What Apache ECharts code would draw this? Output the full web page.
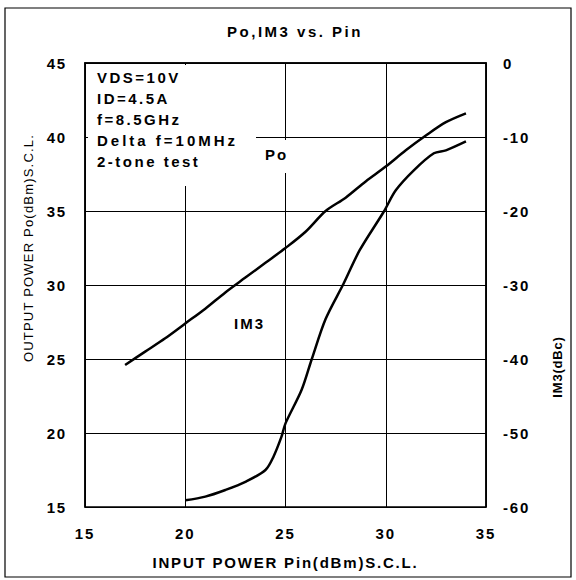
<!DOCTYPE html>
<html><head><meta charset="utf-8">
<script src="https://cdn.jsdelivr.net/npm/echarts@6/dist/echarts.min.js"></script>
<style>html,body{margin:0;padding:0;background:#fff}#c{width:576px;height:580px}</style>
</head><body><div id="c"></div>
<script>
const poPin = [17,18,19,20,21,22,23,24,25,26,27,28,29,30,31,32,33,34];
const poVals = [24.6,25.5,26.4,27.4,28.4,29.5,30.5,31.5,32.5,33.6,35.0,35.9,37.0,38.0,39.1,40.1,41.0,41.6];
const im3Pin = [20,21,22,23,24,24.4,24.8,25,25.8,26.3,27,27.9,28.7,29.9,30.5,31.4,32.4,33,34];
const im3Vals = [-59.1,-58.6,-57.7,-56.6,-55.0,-53.2,-50.5,-48.7,-44.2,-40.1,-34.6,-29.8,-25.3,-20.1,-17.2,-14.5,-12.2,-11.8,-10.6];
const xTicks = [15,20,25,30,35];
const leftTicks = [15,20,25,30,35,40,45];
const rightTicks = [-60,-50,-40,-30,-20,-10,0];
const infoLines = ['VDS=10V','ID=4.5A','f=8.5GHz','Delta f=10MHz','2-tone test'];
const titleText = 'Po,IM3 vs. Pin';
const xName = 'INPUT POWER Pin(dBm)S.C.L.';
const yLeftName = 'OUTPUT POWER Po(dBm)S.C.L.';
const yRightName = 'IM3(dBc)';

const FF = '"Liberation Sans", Arial, sans-serif';
const chart = echarts.init(document.getElementById('c'), null, {renderer:'svg'});
const lbl = {color:'#000', fontFamily:FF, fontWeight:'bold', fontSize:15};
const infoTexts = infoLines.map((t,i)=>({
  type:'text', x:97, y:77 + i*21, z:20,
  style:{text:t, fill:'#000', font:'bold 15px '+FF, textVerticalAlign:'middle'}
}));
chart.setOption({
  animation:false,
  backgroundColor:'#fff',
  title:{text:titleText, left:290, top:19, textAlign:'center',
    textStyle:{fontFamily:FF, fontWeight:'bold', fontSize:15, color:'#000'}},
  grid:{left:85, right:90, top:63, bottom:73, show:true, borderColor:'#000', borderWidth:1.5, backgroundColor:'transparent'},
  xAxis:{type:'value', min:xTicks[0], max:xTicks[xTicks.length-1], interval:5,
    axisLine:{lineStyle:{color:'#000', width:1.5}}, axisTick:{show:false},
    splitLine:{show:true, lineStyle:{color:'#000', width:1}},
    axisLabel:Object.assign({margin:19}, lbl),
    name:xName, nameLocation:'middle', nameGap:48,
    nameTextStyle:{color:'#000', fontFamily:FF, fontWeight:'bold', fontSize:15}},
  yAxis:[
    {type:'value', min:leftTicks[0], max:leftTicks[leftTicks.length-1], interval:5,
     axisLine:{show:true, lineStyle:{color:'#000', width:1.5}}, axisTick:{show:false},
     splitLine:{show:true, lineStyle:{color:'#000', width:1}},
     axisLabel:Object.assign({margin:18}, lbl)},
    {type:'value', position:'right', min:rightTicks[0], max:rightTicks[rightTicks.length-1], interval:10,
     axisLine:{show:true, lineStyle:{color:'#000', width:1.5}}, axisTick:{show:false},
     splitLine:{show:false},
     axisLabel:Object.assign({margin:17}, lbl)}
  ],
  series:[
    {type:'line', name:'Po', yAxisIndex:0, data:poPin.map((x,i)=>[x,poVals[i]]),
     showSymbol:false, smooth:0.3, lineStyle:{color:'#000', width:2.5}, z:5},
    {type:'line', name:'IM3', yAxisIndex:1, data:im3Pin.map((x,i)=>[x,im3Vals[i]]),
     showSymbol:false, smooth:0.3, lineStyle:{color:'#000', width:2.5}, z:5}
  ],
  graphic:[
    {type:'rect', shape:{x:5, y:8, width:566, height:569}, style:{fill:'none', stroke:'#000', lineWidth:1.2}, z:1},
    {type:'rect', shape:{x:88, y:65, width:168, height:121}, style:{fill:'#fff'}, z:15},
    ...infoTexts,
    {type:'rect', shape:{x:262, y:140, width:28, height:33}, style:{fill:'#fff'}, z:15},
    {type:'text', x:265, y:154, z:20, style:{text:'Po', fill:'#000', font:'bold 15px '+FF, textVerticalAlign:'middle'}},
    {type:'text', x:234, y:323, z:20, style:{text:'IM3', fill:'#000', font:'bold 15px '+FF, textVerticalAlign:'middle'}},
    {type:'text', x:28, y:248, rotation:Math.PI/2, z:20,
     style:{text:yLeftName, fill:'#000', font:'13px '+FF, textAlign:'center', textVerticalAlign:'middle'}},
    {type:'text', x:557, y:367, rotation:Math.PI/2, z:20,
     style:{text:yRightName, fill:'#000', font:'bold 13px '+FF, textAlign:'center', textVerticalAlign:'middle'}}
  ]
});
function spacing(){
  const sp = {};
  sp[titleText] = 2.5; sp[xName] = 1.8; sp[yLeftName] = 1.2; sp[yRightName] = 0.8;
  infoLines.forEach(t=>sp[t]=2.5); sp['Delta f=10MHz'] = 3;
  sp['Po'] = 2; sp['IM3'] = 2;
  document.querySelectorAll('#c svg text').forEach(el=>{
    const t = el.textContent;
    el.style.letterSpacing = ((t in sp) ? sp[t] : 1.8) + 'px';
  });
}
spacing();
chart.on('finished', spacing);
</script></body></html>
